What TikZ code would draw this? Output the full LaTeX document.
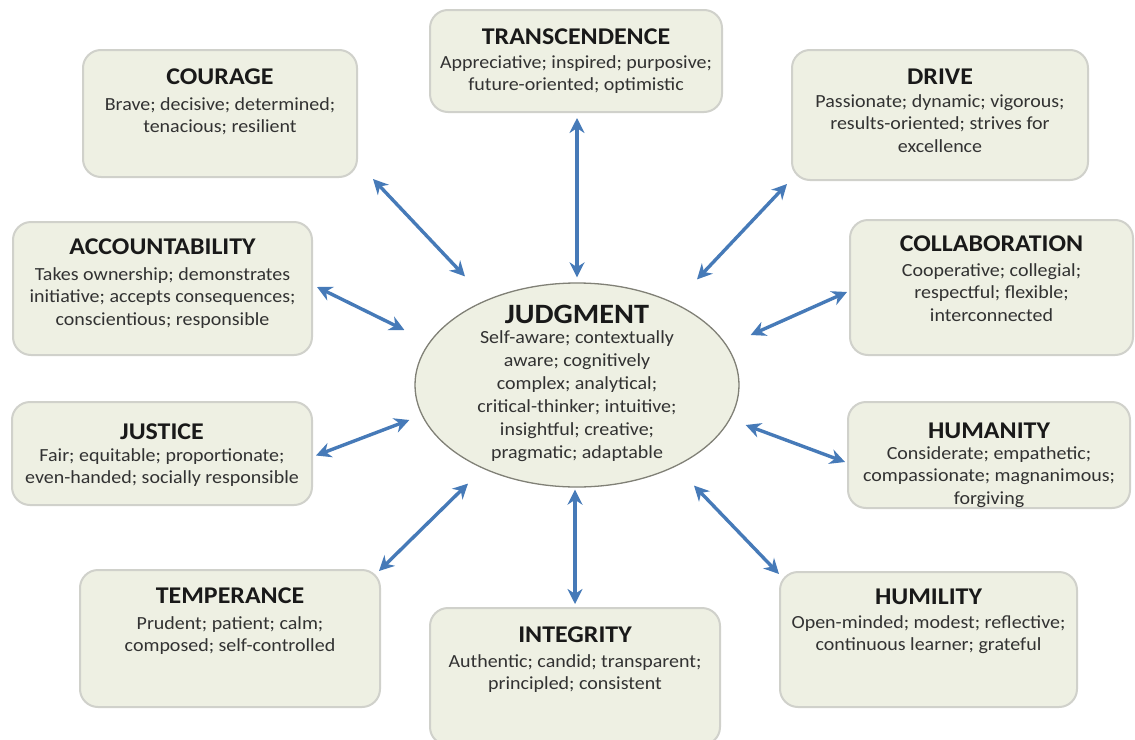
\documentclass[tikz,border=0pt]{standalone}
\usepackage{fontspec}
\setmainfont{Carlito}[FakeStretch=1.08]
\usetikzlibrary{shapes.geometric,arrows.meta}

\definecolor{boxfill}{RGB}{238,240,227}
\definecolor{boxline}{RGB}{208,209,203}
\definecolor{hubline}{RGB}{128,128,118}
\definecolor{linkblue}{RGB}{70,122,184}
\definecolor{bodygray}{RGB}{50,50,50}

\tikzset{
  virtue/.style={draw=boxline, line width=2pt, fill=boxfill, rounded corners=18pt, inner sep=0pt},
  blurb/.style={anchor=north, align=center, inner sep=0pt, text=bodygray,
    font=\fontsize{18.5}{22.5}\selectfont},
  link/.style={draw=linkblue, line width=3.4pt,
    {Stealth[length=15pt,width=15pt]}-{Stealth[length=15pt,width=15pt]}}
}
\newcommand{\vtitle}[1]{{\fontsize{24}{22}\selectfont\bfseries\color{black!90}#1}}

\begin{document}
\begin{tikzpicture}[x=1pt,y=-1pt]
\path[use as bounding box, fill=white] (0,0) rectangle (1135,739);

\node[ellipse, draw=hubline, line width=1.3pt, fill=boxfill, minimum width=324pt, minimum height=204pt, inner sep=0pt] (judg) at (577,385) {};
\node[blurb, font=\fontsize{18.5}{23}\selectfont] (judg-t) at ([yshift=-23pt]judg.north)
  {{\fontsize{28}{23}\selectfont\bfseries\color{black!90}JUDGMENT}\\[-3pt]
   Self-aware; contextually\\ aware; cognitively\\ complex; analytical;\\
   critical-thinker; intuitive;\\ insightful; creative;\\ pragmatic; adaptable};

\node[virtue, minimum width=274pt, minimum height=127pt] (courage) at (220,113.5) {};
\node[blurb] (courage-t) at ([yshift=-20pt]courage.north)
  {\vtitle{COURAGE}\\[3pt] Brave; decisive; determined;\\ tenacious; resilient};

\node[virtue, minimum width=292pt, minimum height=102pt] (transc) at (576,61) {};
\node[blurb] (transc-t) at ([yshift=-20pt]transc.north)
  {\vtitle{TRANSCENDENCE}\\[1pt] Appreciative; inspired; purposive;\\ future-oriented; optimistic};

\node[virtue, minimum width=296pt, minimum height=130pt] (drive) at (940,115) {};
\node[blurb] (drive-t) at ([yshift=-20pt]drive.north)
  {\vtitle{DRIVE}\\[0pt] Passionate; dynamic; vigorous;\\ results-oriented; strives for\\ excellence};

\node[virtue, minimum width=299pt, minimum height=133pt] (account) at (162.5,288.5) {};
\node[blurb] (account-t) at ([yshift=-18pt]account.north)
  {\vtitle{ACCOUNTABILITY}\\[3pt] Takes ownership; demonstrates\\ initiative; accepts consequences;\\ conscientious; responsible};

\node[virtue, minimum width=283pt, minimum height=135pt] (collab) at (991.5,287.5) {};
\node[blurb] (collab-t) at ([yshift=-17pt]collab.north)
  {\vtitle{COLLABORATION}\\[2pt] Cooperative; collegial;\\ respectful; flexible;\\ interconnected};

\node[virtue, minimum width=300pt, minimum height=103pt] (justice) at (162,453.5) {};
\node[blurb] (justice-t) at ([yshift=-23pt]justice.north)
  {\vtitle{JUSTICE}\\[-1pt] Fair; equitable; proportionate;\\ even-handed; socially responsible};

\node[virtue, minimum width=282pt, minimum height=106pt] (humanity) at (989,455) {};
\node[blurb] (humanity-t) at ([yshift=-22pt]humanity.north)
  {\vtitle{HUMANITY}\\[-2pt] Considerate; empathetic;\\ compassionate; magnanimous;\\ forgiving};

\node[virtue, minimum width=300pt, minimum height=137pt] (temper) at (230,638.5) {};
\node[blurb] (temper-t) at ([yshift=-19pt]temper.north)
  {\vtitle{TEMPERANCE}\\[3pt] Prudent; patient; calm;\\ composed; self-controlled};

\node[virtue, minimum width=290pt, minimum height=137pt] (integ) at (575,676.5) {};
\node[blurb] (integ-t) at ([yshift=-20pt]integ.north)
  {\vtitle{INTEGRITY}\\[2pt] Authentic; candid; transparent;\\ principled; consistent};

\node[virtue, minimum width=297pt, minimum height=135pt] (humility) at (928.5,639.5) {};
\node[blurb] (humility-t) at ([yshift=-18pt]humility.north)
  {\vtitle{HUMILITY}\\[1pt] Open-minded; modest; reflective;\\ continuous learner; grateful};

\draw[link] ([shift={(15,1)}]courage.south east) -- ([shift={(3,-36)}]judg.north west);
\draw[link] ([shift={(1,5)}]transc.south) -- ([shift={(0,-5)}]judg.north);
\draw[link] ([shift={(-4,3)}]drive.south west) -- ([shift={(5,-33)}]judg.north east);
\draw[link] ([shift={(4,-1.5)}]account.east) -- ([shift={(-10,-55)}]judg.west);
\draw[link] ([shift={(-2,4.5)}]collab.west) -- ([shift={(11,-50)}]judg.east);
\draw[link] ([shift={(3,2)}]justice.east) -- ([shift={(-5,35)}]judg.west);
\draw[link] ([shift={(-2,7)}]humanity.west) -- ([shift={(6,40)}]judg.east);
\draw[link] ([shift={(-2,2)}]temper.north east) -- ([shift={(6,26)}]judg.south west);
\draw[link] ([shift={(-2,2)}]judg.south) -- ([shift={(0,-3)}]integ.north);
\draw[link] ([shift={(2,28)}]judg.south east) -- ([shift={(0,3)}]humility.north west);
\end{tikzpicture}
\end{document}
